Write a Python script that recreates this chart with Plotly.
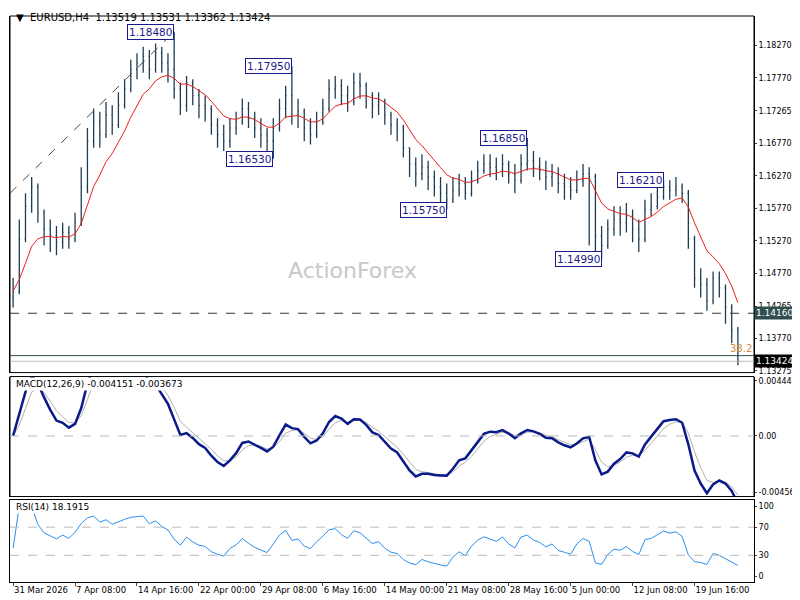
import plotly.graph_objects as go
import pandas as pd

closes = [1.1450,1.1530,1.1580,1.1610,1.1570,1.1545,1.1535,1.1525,1.1540,1.1530,
          1.1555,1.1610,1.1680,1.1710,1.1690,1.1720,1.1705,1.1735,1.1760,1.1790,
          1.1800,1.1810,1.1790,1.1815,1.1800,1.1790,1.1760,1.1735,1.1770,1.1750,
          1.1735,1.1730,1.1705,1.1690,1.1680,1.1700,1.1710,1.1730,1.1715,1.1700,
          1.1690,1.1680,1.1700,1.1730,1.1750,1.1720,1.1725,1.1700,1.1690,1.1710,
          1.1730,1.1760,1.1765,1.1750,1.1740,1.1770,1.1765,1.1750,1.1735,1.1740,
          1.1720,1.1705,1.1700,1.1670,1.1645,1.1630,1.1640,1.1625,1.1610,1.1600,
          1.1590,1.1605,1.1615,1.1600,1.1620,1.1635,1.1645,1.1640,1.1635,1.1645,
          1.1630,1.1620,1.1645,1.1650,1.1640,1.1635,1.1625,1.1630,1.1615,1.1610,
          1.1605,1.1620,1.1630,1.1625,1.1535,1.1520,1.1545,1.1560,1.1555,1.1565,
          1.1545,1.1530,1.1575,1.1580,1.1595,1.1610,1.1605,1.1610,1.1600,1.1530,
          1.1470,1.1460,1.1435,1.1470,1.1455,1.1425,1.1390,1.13424]
highs = [1.1470,1.1560,1.1600,1.1625,1.1615,1.1575,1.1560,1.1550,1.1555,1.1550,
         1.1570,1.1640,1.1700,1.1730,1.1725,1.1740,1.1735,1.1755,1.1775,1.1805,
         1.1815,1.1825,1.1820,1.1830,1.1825,1.1815,1.1848,1.1770,1.1780,1.1775,
         1.1760,1.1750,1.1735,1.1715,1.1705,1.1715,1.1725,1.1745,1.1740,1.1725,
         1.1715,1.1700,1.1715,1.1745,1.1765,1.1795,1.1745,1.1730,1.1715,1.1725,
         1.1745,1.1775,1.1780,1.1775,1.1765,1.1785,1.1785,1.1770,1.1755,1.1755,
         1.1745,1.1725,1.1715,1.1705,1.1670,1.1655,1.1660,1.1650,1.1635,1.1625,
         1.1615,1.1625,1.1630,1.1625,1.1635,1.1650,1.1660,1.1660,1.1655,1.1660,
         1.1650,1.1645,1.1660,1.1685,1.1665,1.1655,1.1650,1.1645,1.1640,1.1630,
         1.1625,1.1635,1.1645,1.1640,1.1630,1.1550,1.1560,1.1580,1.1580,1.1585,
         1.1575,1.1560,1.1590,1.1600,1.1610,1.1621,1.1620,1.1625,1.1615,1.1605,
         1.1535,1.1485,1.1470,1.1480,1.1480,1.1460,1.1430,1.1395]
lows = [1.1425,1.1445,1.1525,1.1570,1.1555,1.1520,1.1510,1.1505,1.1515,1.1515,
        1.1525,1.1550,1.1600,1.1670,1.1670,1.1685,1.1690,1.1700,1.1730,1.1755,
        1.1775,1.1785,1.1775,1.1785,1.1785,1.1770,1.1745,1.1720,1.1725,1.1735,
        1.1715,1.1710,1.1690,1.1670,1.1665,1.1670,1.1690,1.1705,1.1700,1.1685,
        1.1670,1.1660,1.1653,1.1695,1.1715,1.1705,1.1700,1.1680,1.1675,1.1685,
        1.1705,1.1725,1.1745,1.1735,1.1725,1.1735,1.1745,1.1730,1.1715,1.1720,
        1.1705,1.1690,1.1680,1.1655,1.1625,1.1610,1.1620,1.1605,1.1595,1.1580,
        1.1575,1.1585,1.1595,1.1590,1.1595,1.1615,1.1630,1.1625,1.1620,1.1625,
        1.1615,1.1600,1.1615,1.1635,1.1625,1.1620,1.1605,1.1610,1.1600,1.1590,
        1.1590,1.1600,1.1610,1.1520,1.1510,1.1499,1.1515,1.1535,1.1535,1.1540,
        1.1525,1.1510,1.1525,1.1565,1.1575,1.1590,1.1590,1.1595,1.1585,1.1515,
        1.1455,1.1440,1.1420,1.1430,1.1440,1.1400,1.1370,1.13362]
opens = [1.1440] + closes[:-1]

tick_labels = ["31 Mar 2026","7 Apr 08:00","14 Apr 16:00","22 Apr 00:00","29 Apr 08:00",
               "6 May 16:00","14 May 00:00","21 May 08:00","28 May 16:00","5 Jun 00:00",
               "12 Jun 08:00","19 Jun 16:00"]
price_ticks = [1.18270,1.17770,1.17265,1.16770,1.16270,1.15770,1.15270,1.14770,1.14265,1.13770,1.13275]
swing_labels = [(26,1.18480,"1.18480"),(45,1.17950,"1.17950"),(42,1.16530,"1.16530"),
                (70,1.15750,"1.15750"),(83,1.16850,"1.16850"),(95,1.14990,"1.14990"),(105,1.16210,"1.16210")]

x = list(range(len(closes)))
s = pd.Series(closes)
ma = s.ewm(span=8, adjust=False).mean()
macd = s.ewm(span=4, adjust=False).mean() - s.ewm(span=10, adjust=False).mean()
sig = macd.ewm(span=3, adjust=False).mean()
d = s.diff().fillna(0)
up = d.clip(lower=0).ewm(alpha=1/7, adjust=False).mean()
dn = (-d.clip(upper=0)).ewm(alpha=1/7, adjust=False).mean()
rsi = 100 - 100/(1+up/(dn+1e-9))
rsi.iloc[0] = 40

BAR = "#1e3d52"
fig = go.Figure()
fig.add_trace(go.Ohlc(x=x, open=opens, high=highs, low=lows, close=closes,
                      increasing=dict(line=dict(color=BAR, width=1.3)),
                      decreasing=dict(line=dict(color=BAR, width=1.3)),
                      tickwidth=0.15, xaxis="x", yaxis="y"))
fig.add_trace(go.Scatter(x=x, y=ma, mode="lines", line=dict(color="#e8201c", width=1), yaxis="y"))
fig.add_trace(go.Scatter(x=x, y=sig, mode="lines", line=dict(color="#b0b0b0", width=1), yaxis="y2"))
fig.add_trace(go.Scatter(x=x, y=macd, mode="lines", line=dict(color="#0b1a8a", width=2.5), yaxis="y2"))
fig.add_trace(go.Scatter(x=x, y=rsi, mode="lines", line=dict(color="#2a8ff0", width=1), yaxis="y3"))

xr = [-0.5, 119.6]
fig.update_layout(
    width=800, height=600, showlegend=False, plot_bgcolor="white", paper_bgcolor="white",
    margin=dict(l=2, r=54, t=8, b=26),
    font=dict(family="DejaVu Sans", size=9, color="black"),
    xaxis=dict(range=xr, rangeslider=dict(visible=False), tickvals=[i*10 for i in range(12)],
               ticktext=tick_labels, tickangle=0, ticklabelposition="outside right",
               showgrid=False, showline=True, linecolor="black", mirror=True,
               ticks="outside", ticklen=3, tickfont=dict(size=8.5), anchor="y3"),
    yaxis=dict(domain=[0.37, 1.0], range=[1.1325, 1.1872], side="right", tickvals=price_ticks,
               tickformat=".5f", showgrid=False, showline=True, linecolor="black", mirror=True,
               ticks="outside", ticklen=2, tickfont=dict(size=8)),
    yaxis2=dict(domain=[0.151, 0.363], range=[-0.0049, 0.0048], side="right",
                tickvals=[0.004443, 0, -0.00456], ticktext=["0.004443","0.00","-0.00456"],
                showgrid=False, showline=True, linecolor="black", mirror=True, ticks="outside",
                ticklen=2, tickfont=dict(size=8), zeroline=False),
    yaxis3=dict(domain=[0, 0.144], range=[-8, 108], side="right", tickvals=[100,70,30,0],
                showgrid=False, showline=True, linecolor="black", mirror=True, ticks="outside",
                ticklen=2, tickfont=dict(size=8), zeroline=False),
)
for yr in ["y", "y2"]:
    for (x0, x1, y0, y1) in [(0,1,0,0),(0,1,1,1),(0,0,0,1),(1,1,0,1)]:
        fig.add_shape(type="line", xref="paper", yref=yr+" domain", x0=x0, x1=x1, y0=y0, y1=y1,
                      line=dict(color="black", width=1))

fig.add_shape(type="line", xref="x", yref="y", x0=xr[0], x1=xr[1], y0=1.14160, y1=1.14160, line=dict(color="#333", width=1, dash="dash"))
fig.add_shape(type="line", xref="x", yref="y", x0=xr[0], x1=xr[1], y0=1.1351, y1=1.1351, line=dict(color="#2f4f4f", width=1))
fig.add_shape(type="line", xref="x", yref="y", x0=xr[0], x1=xr[1], y0=1.13424, y1=1.13424, line=dict(color="#bbbbbb", width=1))
fig.add_shape(type="line", xref="x", yref="y", x0=-0.5, x1=26, y0=1.1600, y1=1.1848, line=dict(color="#444", width=1, dash="dash"))
fig.add_shape(type="line", xref="x", yref="y2", x0=xr[0], x1=xr[1], y0=0, y1=0, line=dict(color="#bbbbbb", width=1, dash="dash"))
for v in [70, 30]:
    fig.add_shape(type="line", xref="x", yref="y3", x0=xr[0], x1=xr[1], y0=v, y1=v, line=dict(color="#bbbbbb", width=1, dash="dash"))

anns = []
for i, p, t in swing_labels:
    anns.append(dict(x=i, y=p, xref="x", yref="y", text=t, showarrow=False, xanchor="right",
                     yanchor="middle", bgcolor="white", bordercolor="#1a1a8c", borderwidth=1,
                     borderpad=1, font=dict(color="#1a1a8c", size=10.5)))
anns += [
    dict(x=0.005, y=1.0, xref="paper", yref="paper", text="▼  EURUSD,H4  1.13519 1.13531 1.13362 1.13424",
         showarrow=False, xanchor="left", yanchor="top", yshift=6, font=dict(size=10)),
    dict(x=0.005, y=0.363, xref="paper", yref="paper", text="MACD(12,26,9) -0.004151 -0.003673",
         showarrow=False, xanchor="left", yanchor="top", font=dict(size=9), bgcolor="white"),
    dict(x=0.005, y=0.144, xref="paper", yref="paper", text="RSI(14) 18.1915",
         showarrow=False, xanchor="left", yanchor="top", font=dict(size=9), bgcolor="white"),
    dict(x=0.46, y=0.55, xref="paper", yref="paper", text="ActionForex", showarrow=False,
         font=dict(size=22, color="#c8c8c8")),
    dict(x=117.5, y=1.1362, xref="x", yref="y", text="38.2", showarrow=False, font=dict(size=10, color="#d08a3a")),
    dict(x=1.0, y=1.14160, xref="paper", yref="y", text="1.14160", showarrow=False, xanchor="left",
         bgcolor="#2f4f4f", font=dict(color="white", size=9), borderpad=1),
    dict(x=1.0, y=1.13424, xref="paper", yref="y", text="1.13424", showarrow=False, xanchor="left",
         bgcolor="black", font=dict(color="white", size=9), borderpad=1),
]
fig.update_layout(annotations=anns)
fig.write_html("out.html")
